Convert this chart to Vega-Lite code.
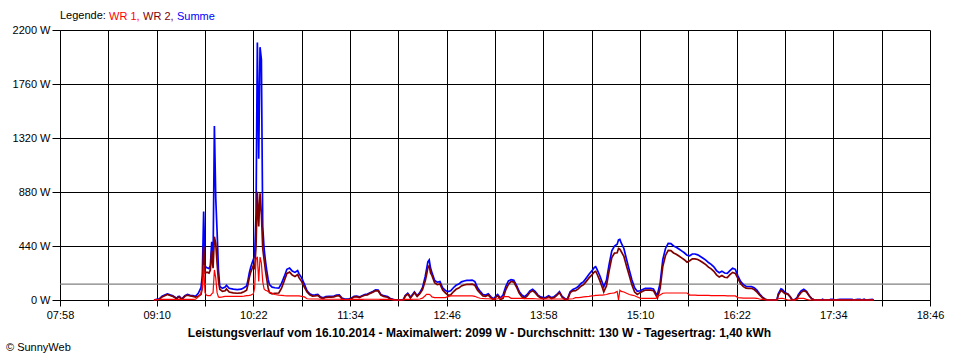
{
  "$schema": "https://vega.github.io/schema/vega-lite/v6.json",
  "width": 870,
  "height": 270,
  "autosize": {"type": "none"},
  "padding": {"left": 60, "top": 30, "right": 30, "bottom": 60},
  "background": "white",
  "config": {"font": "Liberation Sans", "view": {"stroke": null}},
  "title": {"text": "© SunnyWeb", "orient": "bottom", "anchor": "start", "frame": "group", "dx": -54, "offset": 4, "fontSize": 11, "fontWeight": "normal", "color": "black", "font": "Liberation Sans"},
  "data": {
    "format": {"parse": {"t": "date:'%H:%M'"}},
    "values": [
      {"t":"09:08","WR 1":0,"WR 2":0,"Summe":0},
      {"t":"09:10","WR 1":3,"WR 2":2,"Summe":5},
      {"t":"09:12","WR 1":4,"WR 2":6,"Summe":10},
      {"t":"09:14","WR 1":5,"WR 2":25,"Summe":30},
      {"t":"09:16","WR 1":5,"WR 2":35,"Summe":40},
      {"t":"09:18","WR 1":5,"WR 2":45,"Summe":50},
      {"t":"09:20","WR 1":5,"WR 2":37,"Summe":42},
      {"t":"09:22","WR 1":5,"WR 2":30,"Summe":35},
      {"t":"09:24","WR 1":4,"WR 2":16,"Summe":20},
      {"t":"09:25","WR 1":4,"WR 2":8,"Summe":12},
      {"t":"09:26","WR 1":5,"WR 2":23,"Summe":28},
      {"t":"09:27","WR 1":5,"WR 2":25,"Summe":30},
      {"t":"09:28","WR 1":4,"WR 2":11,"Summe":15},
      {"t":"09:29","WR 1":4,"WR 2":8,"Summe":12},
      {"t":"09:31","WR 1":5,"WR 2":30,"Summe":35},
      {"t":"09:33","WR 1":5,"WR 2":40,"Summe":45},
      {"t":"09:35","WR 1":5,"WR 2":33,"Summe":38},
      {"t":"09:37","WR 1":5,"WR 2":30,"Summe":35},
      {"t":"09:39","WR 1":6,"WR 2":24,"Summe":30},
      {"t":"09:41","WR 1":25,"WR 2":30,"Summe":55},
      {"t":"09:43","WR 1":55,"WR 2":45,"Summe":100},
      {"t":"09:44","WR 1":100,"WR 2":100,"Summe":200},
      {"t":"09:45","WR 1":285,"WR 2":435,"Summe":720},
      {"t":"09:46","WR 1":60,"WR 2":220,"Summe":280},
      {"t":"09:47","WR 1":40,"WR 2":225,"Summe":265},
      {"t":"09:48","WR 1":35,"WR 2":225,"Summe":260},
      {"t":"09:49","WR 1":35,"WR 2":220,"Summe":255},
      {"t":"09:50","WR 1":35,"WR 2":245,"Summe":280},
      {"t":"09:51","WR 1":50,"WR 2":400,"Summe":475},
      {"t":"09:52","WR 1":60,"WR 2":260,"Summe":320},
      {"t":"09:53","WR 1":245,"WR 2":516,"Summe":1418},
      {"t":"09:54","WR 1":180,"WR 2":460,"Summe":830},
      {"t":"09:55","WR 1":60,"WR 2":300,"Summe":560},
      {"t":"09:56","WR 1":25,"WR 2":160,"Summe":250},
      {"t":"09:57","WR 1":22,"WR 2":88,"Summe":110},
      {"t":"09:59","WR 1":25,"WR 2":70,"Summe":95},
      {"t":"10:01","WR 1":30,"WR 2":75,"Summe":105},
      {"t":"10:02","WR 1":30,"WR 2":90,"Summe":120},
      {"t":"10:04","WR 1":30,"WR 2":65,"Summe":95},
      {"t":"10:07","WR 1":30,"WR 2":58,"Summe":88},
      {"t":"10:10","WR 1":30,"WR 2":55,"Summe":85},
      {"t":"10:13","WR 1":30,"WR 2":58,"Summe":88},
      {"t":"10:15","WR 1":32,"WR 2":68,"Summe":100},
      {"t":"10:17","WR 1":35,"WR 2":80,"Summe":115},
      {"t":"10:18","WR 1":35,"WR 2":125,"Summe":160},
      {"t":"10:19","WR 1":38,"WR 2":182,"Summe":220},
      {"t":"10:20","WR 1":40,"WR 2":225,"Summe":265},
      {"t":"10:21","WR 1":45,"WR 2":255,"Summe":300},
      {"t":"10:22","WR 1":50,"WR 2":280,"Summe":330},
      {"t":"10:23","WR 1":100,"WR 2":260,"Summe":360},
      {"t":"10:24","WR 1":330,"WR 2":435,"Summe":700},
      {"t":"10:25","WR 1":353,"WR 2":882,"Summe":2099},
      {"t":"10:26","WR 1":150,"WR 2":600,"Summe":1150},
      {"t":"10:27","WR 1":350,"WR 2":870,"Summe":2060},
      {"t":"10:28","WR 1":300,"WR 2":700,"Summe":1960},
      {"t":"10:29","WR 1":150,"WR 2":420,"Summe":600},
      {"t":"10:30","WR 1":90,"WR 2":330,"Summe":420},
      {"t":"10:31","WR 1":80,"WR 2":244,"Summe":320},
      {"t":"10:32","WR 1":75,"WR 2":170,"Summe":240},
      {"t":"10:33","WR 1":70,"WR 2":100,"Summe":170},
      {"t":"10:34","WR 1":65,"WR 2":60,"Summe":125},
      {"t":"10:36","WR 1":55,"WR 2":50,"Summe":105},
      {"t":"10:38","WR 1":45,"WR 2":55,"Summe":100},
      {"t":"10:41","WR 1":40,"WR 2":57,"Summe":97},
      {"t":"10:43","WR 1":38,"WR 2":97,"Summe":135},
      {"t":"10:45","WR 1":35,"WR 2":155,"Summe":190},
      {"t":"10:47","WR 1":33,"WR 2":217,"Summe":250},
      {"t":"10:49","WR 1":33,"WR 2":227,"Summe":260},
      {"t":"10:51","WR 1":33,"WR 2":203,"Summe":236},
      {"t":"10:53","WR 1":33,"WR 2":192,"Summe":225},
      {"t":"10:55","WR 1":33,"WR 2":207,"Summe":240},
      {"t":"10:56","WR 1":33,"WR 2":182,"Summe":215},
      {"t":"10:58","WR 1":30,"WR 2":150,"Summe":180},
      {"t":"11:00","WR 1":25,"WR 2":105,"Summe":130},
      {"t":"11:02","WR 1":10,"WR 2":65,"Summe":75},
      {"t":"11:04","WR 1":8,"WR 2":42,"Summe":50},
      {"t":"11:06","WR 1":8,"WR 2":32,"Summe":40},
      {"t":"11:08","WR 1":8,"WR 2":34,"Summe":42},
      {"t":"11:10","WR 1":8,"WR 2":37,"Summe":45},
      {"t":"11:12","WR 1":6,"WR 2":19,"Summe":25},
      {"t":"11:14","WR 1":6,"WR 2":12,"Summe":18},
      {"t":"11:16","WR 1":6,"WR 2":22,"Summe":28},
      {"t":"11:18","WR 1":6,"WR 2":24,"Summe":30},
      {"t":"11:20","WR 1":6,"WR 2":24,"Summe":30},
      {"t":"11:22","WR 1":6,"WR 2":26,"Summe":32},
      {"t":"11:24","WR 1":6,"WR 2":34,"Summe":40},
      {"t":"11:26","WR 1":6,"WR 2":36,"Summe":42},
      {"t":"11:28","WR 1":5,"WR 2":10,"Summe":15},
      {"t":"11:30","WR 1":4,"WR 2":4,"Summe":8},
      {"t":"11:33","WR 1":4,"WR 2":4,"Summe":8},
      {"t":"11:35","WR 1":4,"WR 2":11,"Summe":15},
      {"t":"11:37","WR 1":5,"WR 2":25,"Summe":30},
      {"t":"11:39","WR 1":5,"WR 2":27,"Summe":32},
      {"t":"11:41","WR 1":5,"WR 2":20,"Summe":25},
      {"t":"11:43","WR 1":5,"WR 2":30,"Summe":35},
      {"t":"11:45","WR 1":6,"WR 2":39,"Summe":45},
      {"t":"11:47","WR 1":6,"WR 2":42,"Summe":48},
      {"t":"11:49","WR 1":6,"WR 2":54,"Summe":60},
      {"t":"11:51","WR 1":6,"WR 2":64,"Summe":70},
      {"t":"11:53","WR 1":6,"WR 2":76,"Summe":82},
      {"t":"11:55","WR 1":6,"WR 2":74,"Summe":80},
      {"t":"11:57","WR 1":5,"WR 2":40,"Summe":45},
      {"t":"11:59","WR 1":5,"WR 2":30,"Summe":35},
      {"t":"12:02","WR 1":5,"WR 2":23,"Summe":28},
      {"t":"12:04","WR 1":4,"WR 2":8,"Summe":12},
      {"t":"12:06","WR 1":3,"WR 2":3,"Summe":6},
      {"t":"12:08","WR 1":0,"WR 2":0,"Summe":0},
      {"t":"12:12","WR 1":0,"WR 2":0,"Summe":0},
      {"t":"12:14","WR 1":3,"WR 2":2,"Summe":5},
      {"t":"12:15","WR 1":5,"WR 2":30,"Summe":35},
      {"t":"12:17","WR 1":6,"WR 2":49,"Summe":55},
      {"t":"12:18","WR 1":5,"WR 2":35,"Summe":40},
      {"t":"12:19","WR 1":5,"WR 2":17,"Summe":22},
      {"t":"12:21","WR 1":6,"WR 2":44,"Summe":50},
      {"t":"12:22","WR 1":6,"WR 2":59,"Summe":65},
      {"t":"12:24","WR 1":6,"WR 2":29,"Summe":35},
      {"t":"12:26","WR 1":8,"WR 2":52,"Summe":60},
      {"t":"12:28","WR 1":15,"WR 2":85,"Summe":100},
      {"t":"12:30","WR 1":35,"WR 2":155,"Summe":190},
      {"t":"12:31","WR 1":46,"WR 2":204,"Summe":250},
      {"t":"12:32","WR 1":46,"WR 2":264,"Summe":310},
      {"t":"12:33","WR 1":46,"WR 2":280,"Summe":326},
      {"t":"12:34","WR 1":40,"WR 2":220,"Summe":260},
      {"t":"12:35","WR 1":25,"WR 2":200,"Summe":225},
      {"t":"12:37","WR 1":19,"WR 2":141,"Summe":160},
      {"t":"12:39","WR 1":19,"WR 2":126,"Summe":145},
      {"t":"12:41","WR 1":19,"WR 2":131,"Summe":150},
      {"t":"12:43","WR 1":19,"WR 2":81,"Summe":100},
      {"t":"12:45","WR 1":19,"WR 2":59,"Summe":78},
      {"t":"12:47","WR 1":28,"WR 2":40,"Summe":68},
      {"t":"12:49","WR 1":33,"WR 2":42,"Summe":75},
      {"t":"12:51","WR 1":33,"WR 2":67,"Summe":100},
      {"t":"12:53","WR 1":33,"WR 2":87,"Summe":120},
      {"t":"12:55","WR 1":33,"WR 2":97,"Summe":130},
      {"t":"12:57","WR 1":33,"WR 2":115,"Summe":148},
      {"t":"12:59","WR 1":33,"WR 2":122,"Summe":155},
      {"t":"13:01","WR 1":33,"WR 2":127,"Summe":160},
      {"t":"13:03","WR 1":33,"WR 2":127,"Summe":160},
      {"t":"13:05","WR 1":33,"WR 2":129,"Summe":162},
      {"t":"13:07","WR 1":30,"WR 2":120,"Summe":150},
      {"t":"13:09","WR 1":20,"WR 2":80,"Summe":100},
      {"t":"13:11","WR 1":14,"WR 2":56,"Summe":70},
      {"t":"13:13","WR 1":12,"WR 2":33,"Summe":45},
      {"t":"13:15","WR 1":10,"WR 2":30,"Summe":40},
      {"t":"13:17","WR 1":10,"WR 2":40,"Summe":50},
      {"t":"13:19","WR 1":8,"WR 2":17,"Summe":25},
      {"t":"13:21","WR 1":8,"WR 2":2,"Summe":10},
      {"t":"13:23","WR 1":8,"WR 2":27,"Summe":35},
      {"t":"13:24","WR 1":10,"WR 2":35,"Summe":45},
      {"t":"13:26","WR 1":12,"WR 2":4,"Summe":16},
      {"t":"13:28","WR 1":27,"WR 2":13,"Summe":40},
      {"t":"13:30","WR 1":27,"WR 2":83,"Summe":110},
      {"t":"13:32","WR 1":27,"WR 2":128,"Summe":155},
      {"t":"13:34","WR 1":14,"WR 2":151,"Summe":165},
      {"t":"13:36","WR 1":14,"WR 2":146,"Summe":160},
      {"t":"13:38","WR 1":14,"WR 2":106,"Summe":120},
      {"t":"13:40","WR 1":14,"WR 2":56,"Summe":70},
      {"t":"13:42","WR 1":14,"WR 2":26,"Summe":40},
      {"t":"13:44","WR 1":12,"WR 2":15,"Summe":27},
      {"t":"13:46","WR 1":12,"WR 2":33,"Summe":45},
      {"t":"13:48","WR 1":12,"WR 2":63,"Summe":75},
      {"t":"13:50","WR 1":12,"WR 2":76,"Summe":88},
      {"t":"13:52","WR 1":10,"WR 2":58,"Summe":68},
      {"t":"13:54","WR 1":8,"WR 2":32,"Summe":40},
      {"t":"13:56","WR 1":8,"WR 2":17,"Summe":25},
      {"t":"13:58","WR 1":8,"WR 2":11,"Summe":19},
      {"t":"14:00","WR 1":8,"WR 2":14,"Summe":22},
      {"t":"14:02","WR 1":8,"WR 2":27,"Summe":35},
      {"t":"14:04","WR 1":8,"WR 2":11,"Summe":19},
      {"t":"14:06","WR 1":8,"WR 2":19,"Summe":27},
      {"t":"14:08","WR 1":8,"WR 2":37,"Summe":45},
      {"t":"14:10","WR 1":8,"WR 2":60,"Summe":68},
      {"t":"14:12","WR 1":8,"WR 2":22,"Summe":30},
      {"t":"14:14","WR 1":8,"WR 2":4,"Summe":12},
      {"t":"14:16","WR 1":8,"WR 2":2,"Summe":10},
      {"t":"14:18","WR 1":8,"WR 2":60,"Summe":68},
      {"t":"14:20","WR 1":10,"WR 2":75,"Summe":85},
      {"t":"14:22","WR 1":19,"WR 2":76,"Summe":95},
      {"t":"14:24","WR 1":19,"WR 2":91,"Summe":110},
      {"t":"14:26","WR 1":22,"WR 2":113,"Summe":135},
      {"t":"14:28","WR 1":25,"WR 2":125,"Summe":150},
      {"t":"14:30","WR 1":28,"WR 2":152,"Summe":180},
      {"t":"14:32","WR 1":30,"WR 2":180,"Summe":210},
      {"t":"14:34","WR 1":33,"WR 2":202,"Summe":235},
      {"t":"14:36","WR 1":36,"WR 2":229,"Summe":265},
      {"t":"14:37","WR 1":38,"WR 2":234,"Summe":272},
      {"t":"14:38","WR 1":38,"WR 2":212,"Summe":250},
      {"t":"14:40","WR 1":40,"WR 2":160,"Summe":200},
      {"t":"14:42","WR 1":40,"WR 2":100,"Summe":140},
      {"t":"14:43","WR 1":42,"WR 2":66,"Summe":108},
      {"t":"14:45","WR 1":45,"WR 2":115,"Summe":160},
      {"t":"14:47","WR 1":52,"WR 2":238,"Summe":290},
      {"t":"14:49","WR 1":55,"WR 2":345,"Summe":400},
      {"t":"14:51","WR 1":58,"WR 2":382,"Summe":440},
      {"t":"14:53","WR 1":70,"WR 2":385,"Summe":455},
      {"t":"14:54","WR 1":0,"WR 2":420,"Summe":490},
      {"t":"14:55","WR 1":80,"WR 2":414,"Summe":494},
      {"t":"14:56","WR 1":70,"WR 2":395,"Summe":465},
      {"t":"14:58","WR 1":65,"WR 2":355,"Summe":420},
      {"t":"15:00","WR 1":55,"WR 2":275,"Summe":330},
      {"t":"15:02","WR 1":45,"WR 2":200,"Summe":245},
      {"t":"15:04","WR 1":40,"WR 2":123,"Summe":163},
      {"t":"15:06","WR 1":35,"WR 2":65,"Summe":100},
      {"t":"15:08","WR 1":25,"WR 2":45,"Summe":70},
      {"t":"15:10","WR 1":15,"WR 2":60,"Summe":75},
      {"t":"15:12","WR 1":14,"WR 2":71,"Summe":85},
      {"t":"15:14","WR 1":14,"WR 2":81,"Summe":95},
      {"t":"15:16","WR 1":14,"WR 2":81,"Summe":95},
      {"t":"15:18","WR 1":14,"WR 2":81,"Summe":95},
      {"t":"15:20","WR 1":14,"WR 2":76,"Summe":90},
      {"t":"15:22","WR 1":14,"WR 2":36,"Summe":50},
      {"t":"15:23","WR 1":30,"WR 2":15,"Summe":45},
      {"t":"15:25","WR 1":40,"WR 2":96,"Summe":136},
      {"t":"15:27","WR 1":55,"WR 2":275,"Summe":330},
      {"t":"15:29","WR 1":57,"WR 2":363,"Summe":420},
      {"t":"15:31","WR 1":57,"WR 2":405,"Summe":462},
      {"t":"15:33","WR 1":57,"WR 2":403,"Summe":460},
      {"t":"15:35","WR 1":57,"WR 2":383,"Summe":440},
      {"t":"15:37","WR 1":57,"WR 2":373,"Summe":430},
      {"t":"15:39","WR 1":57,"WR 2":358,"Summe":415},
      {"t":"15:41","WR 1":57,"WR 2":343,"Summe":400},
      {"t":"15:43","WR 1":57,"WR 2":328,"Summe":385},
      {"t":"15:45","WR 1":57,"WR 2":308,"Summe":365},
      {"t":"15:47","WR 1":40,"WR 2":320,"Summe":360},
      {"t":"15:49","WR 1":40,"WR 2":335,"Summe":375},
      {"t":"15:51","WR 1":40,"WR 2":335,"Summe":375},
      {"t":"15:53","WR 1":38,"WR 2":330,"Summe":368},
      {"t":"15:55","WR 1":37,"WR 2":318,"Summe":355},
      {"t":"15:57","WR 1":37,"WR 2":303,"Summe":340},
      {"t":"15:59","WR 1":37,"WR 2":288,"Summe":325},
      {"t":"16:01","WR 1":37,"WR 2":268,"Summe":305},
      {"t":"16:03","WR 1":36,"WR 2":254,"Summe":290},
      {"t":"16:05","WR 1":36,"WR 2":234,"Summe":270},
      {"t":"16:07","WR 1":35,"WR 2":205,"Summe":240},
      {"t":"16:09","WR 1":35,"WR 2":187,"Summe":222},
      {"t":"16:11","WR 1":35,"WR 2":200,"Summe":235},
      {"t":"16:13","WR 1":35,"WR 2":185,"Summe":220},
      {"t":"16:15","WR 1":34,"WR 2":183,"Summe":217},
      {"t":"16:17","WR 1":34,"WR 2":206,"Summe":240},
      {"t":"16:19","WR 1":33,"WR 2":225,"Summe":258},
      {"t":"16:21","WR 1":33,"WR 2":217,"Summe":250},
      {"t":"16:23","WR 1":20,"WR 2":175,"Summe":195},
      {"t":"16:25","WR 1":18,"WR 2":132,"Summe":150},
      {"t":"16:27","WR 1":16,"WR 2":109,"Summe":125},
      {"t":"16:29","WR 1":16,"WR 2":96,"Summe":112},
      {"t":"16:31","WR 1":16,"WR 2":94,"Summe":110},
      {"t":"16:33","WR 1":15,"WR 2":95,"Summe":110},
      {"t":"16:35","WR 1":15,"WR 2":85,"Summe":100},
      {"t":"16:37","WR 1":14,"WR 2":66,"Summe":80},
      {"t":"16:39","WR 1":8,"WR 2":42,"Summe":50},
      {"t":"16:41","WR 1":5,"WR 2":20,"Summe":25},
      {"t":"16:43","WR 1":2,"WR 2":6,"Summe":8},
      {"t":"16:45","WR 1":0,"WR 2":0,"Summe":0},
      {"t":"16:52","WR 1":0,"WR 2":0,"Summe":0},
      {"t":"16:53","WR 1":10,"WR 2":40,"Summe":50},
      {"t":"16:55","WR 1":14,"WR 2":76,"Summe":90},
      {"t":"16:56","WR 1":14,"WR 2":71,"Summe":85},
      {"t":"16:58","WR 1":8,"WR 2":52,"Summe":60},
      {"t":"17:00","WR 1":0,"WR 2":50,"Summe":50},
      {"t":"17:02","WR 1":0,"WR 2":25,"Summe":25},
      {"t":"17:03","WR 1":0,"WR 2":5,"Summe":5},
      {"t":"17:05","WR 1":0,"WR 2":0,"Summe":0},
      {"t":"17:07","WR 1":5,"WR 2":15,"Summe":20},
      {"t":"17:08","WR 1":13,"WR 2":32,"Summe":45},
      {"t":"17:10","WR 1":13,"WR 2":62,"Summe":75},
      {"t":"17:12","WR 1":13,"WR 2":75,"Summe":88},
      {"t":"17:14","WR 1":5,"WR 2":65,"Summe":70},
      {"t":"17:16","WR 1":0,"WR 2":35,"Summe":35},
      {"t":"17:18","WR 1":0,"WR 2":10,"Summe":10},
      {"t":"17:20","WR 1":0,"WR 2":0,"Summe":0},
      {"t":"17:25","WR 1":0,"WR 2":0,"Summe":0},
      {"t":"17:26","WR 1":0,"WR 2":0,"Summe":6},
      {"t":"17:27","WR 1":0,"WR 2":0,"Summe":0},
      {"t":"17:31","WR 1":0,"WR 2":0,"Summe":0},
      {"t":"17:32","WR 1":0,"WR 2":0,"Summe":6},
      {"t":"17:34","WR 1":0,"WR 2":0,"Summe":6},
      {"t":"17:35","WR 1":0,"WR 2":0,"Summe":0},
      {"t":"17:39","WR 1":0,"WR 2":0,"Summe":6},
      {"t":"17:48","WR 1":0,"WR 2":0,"Summe":6},
      {"t":"17:49","WR 1":0,"WR 2":0,"Summe":0},
      {"t":"17:52","WR 1":0,"WR 2":0,"Summe":6},
      {"t":"17:54","WR 1":0,"WR 2":0,"Summe":6},
      {"t":"17:55","WR 1":0,"WR 2":0,"Summe":0},
      {"t":"17:57","WR 1":0,"WR 2":0,"Summe":6},
      {"t":"17:58","WR 1":0,"WR 2":0,"Summe":0},
      {"t":"18:03","WR 1":0,"WR 2":0,"Summe":6},
      {"t":"18:04","WR 1":0,"WR 2":0,"Summe":0}
    ]
  },
  "layer": [
    {
      "data": {"values": [{"Leistung": 130}]},
      "mark": {"type": "rule", "color": "#808080", "strokeWidth": 1.2},
      "encoding": {
        "y": {"field": "Leistung", "type": "quantitative"}
      }
    },
    {
      "transform": [
        {"fold": ["WR 1", "WR 2", "Summe"], "as": ["Serie", "Leistung"]},
        {"filter": "datum.Serie == 'Summe'"}
      ],
      "mark": {"type": "line", "strokeWidth": 1.7, "interpolate": "linear"},
      "encoding": {
        "x": {
          "field": "t", "type": "temporal",
          "scale": {"domain": [{"year": 1900, "month": 1, "date": 1, "hours": 7, "minutes": 58}, {"year": 1900, "month": 1, "date": 1, "hours": 18, "minutes": 46}], "nice": false},
          "axis": {
            "values": [
              {"year": 1900, "month": 1, "date": 1, "hours": 7, "minutes": 58},
              {"year": 1900, "month": 1, "date": 1, "hours": 8, "minutes": 34},
              {"year": 1900, "month": 1, "date": 1, "hours": 9, "minutes": 10},
              {"year": 1900, "month": 1, "date": 1, "hours": 9, "minutes": 46},
              {"year": 1900, "month": 1, "date": 1, "hours": 10, "minutes": 22},
              {"year": 1900, "month": 1, "date": 1, "hours": 10, "minutes": 58},
              {"year": 1900, "month": 1, "date": 1, "hours": 11, "minutes": 34},
              {"year": 1900, "month": 1, "date": 1, "hours": 12, "minutes": 10},
              {"year": 1900, "month": 1, "date": 1, "hours": 12, "minutes": 46},
              {"year": 1900, "month": 1, "date": 1, "hours": 13, "minutes": 22},
              {"year": 1900, "month": 1, "date": 1, "hours": 13, "minutes": 58},
              {"year": 1900, "month": 1, "date": 1, "hours": 14, "minutes": 34},
              {"year": 1900, "month": 1, "date": 1, "hours": 15, "minutes": 10},
              {"year": 1900, "month": 1, "date": 1, "hours": 15, "minutes": 46},
              {"year": 1900, "month": 1, "date": 1, "hours": 16, "minutes": 22},
              {"year": 1900, "month": 1, "date": 1, "hours": 16, "minutes": 58},
              {"year": 1900, "month": 1, "date": 1, "hours": 17, "minutes": 34},
              {"year": 1900, "month": 1, "date": 1, "hours": 18, "minutes": 10},
              {"year": 1900, "month": 1, "date": 1, "hours": 18, "minutes": 46}
            ],
            "labelExpr": "(hours(datum.value)*60 + minutes(datum.value) - 478) % 72 == 0 ? timeFormat(datum.value, '%H:%M') : ''",
            "labelOverlap": false,
            "labelFlush": false,
            "labelFont": "Liberation Sans",
            "labelFontSize": 11,
            "labelColor": "black",
            "labelPadding": 3,
            "grid": true,
            "gridColor": "black",
            "gridOpacity": 1,
            "gridWidth": 1,
            "domainColor": "black",
            "domainWidth": 1,
            "tickColor": "black",
            "tickSize": 6,
            "tickWidth": 1,
            "title": "Leistungsverlauf vom 16.10.2014 - Maximalwert: 2099 W - Durchschnitt: 130 W - Tagesertrag: 1,40 kWh",
            "titleFont": "Liberation Sans",
            "titleFontSize": 12,
            "titleFontWeight": "bold",
            "titleColor": "black",
            "titleX": 419,
            "titleAnchor": "middle",
            "titlePadding": 7
          }
        },
        "y": {
          "field": "Leistung", "type": "quantitative",
          "scale": {"domain": [0, 2200], "nice": false, "zero": true},
          "axis": {
            "values": [0, 440, 880, 1320, 1760, 2200],
            "labelExpr": "datum.value + ' W'",
            "labelFont": "Liberation Sans",
            "labelFontSize": 11,
            "labelColor": "black",
            "labelPadding": 2,
            "grid": true,
            "gridColor": "black",
            "gridOpacity": 1,
            "gridWidth": 1,
            "domainColor": "black",
            "tickColor": "black",
            "tickSize": 8,
            "title": null
          }
        },
        "color": {
          "field": "Serie", "type": "nominal",
          "scale": {"domain": ["WR 1", "WR 2", "Summe"], "range": ["#ff0000", "#800000", "#0000ff"]},
          "legend": {
            "orient": "none", "legendX": 0, "legendY": -19, "direction": "horizontal",
            "title": "Legende:", "titleOrient": "left", "titleFont": "Liberation Sans", "titleFontSize": 11, "titleFontWeight": "normal", "titleColor": "black", "titlePadding": 3,
            "symbolSize": 0, "symbolStrokeWidth": 0, "symbolOpacity": 0, "labelOffset": -11, "columnPadding": 3,
            "labelFont": "Liberation Sans", "labelFontSize": 11,
            "labelExpr": "datum.label == 'Summe' ? 'Summe' : datum.label + ','",
            "labelColor": {"expr": "datum.value == 'WR 1' ? '#ff0000' : datum.value == 'WR 2' ? '#800000' : '#0000ff'"}
          }
        }
      }
    },
    {
      "transform": [
        {"fold": ["WR 1", "WR 2", "Summe"], "as": ["Serie", "Leistung"]},
        {"filter": "datum.Serie == 'WR 2'"}
      ],
      "mark": {"type": "line", "strokeWidth": 1.7, "interpolate": "linear"},
      "encoding": {
        "x": {"field": "t", "type": "temporal"},
        "y": {"field": "Leistung", "type": "quantitative"},
        "color": {"field": "Serie", "type": "nominal"}
      }
    },
    {
      "transform": [
        {"fold": ["WR 1", "WR 2", "Summe"], "as": ["Serie", "Leistung"]},
        {"filter": "datum.Serie == 'WR 1'"}
      ],
      "mark": {"type": "line", "strokeWidth": 1.2, "interpolate": "linear"},
      "encoding": {
        "x": {"field": "t", "type": "temporal"},
        "y": {"field": "Leistung", "type": "quantitative"},
        "color": {"field": "Serie", "type": "nominal"}
      }
    }
  ]
}
